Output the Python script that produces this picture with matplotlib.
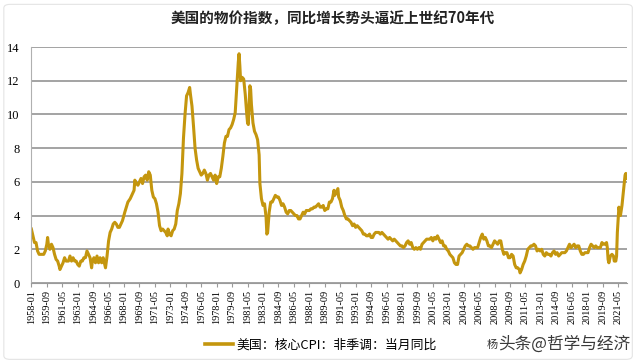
import matplotlib
matplotlib.use('Agg')
import matplotlib.pyplot as plt
from matplotlib.lines import Line2D
from matplotlib.patches import FancyBboxPatch

# core CPI yoy (%)
dates = [
    '1958-01', '1958-03', '1958-05', '1958-07', '1958-09', '1958-11',
    '1959-02', '1959-05', '1959-07', '1959-09', '1959-10', '1959-11',
    '1960-01', '1960-03', '1960-05', '1960-07', '1960-09', '1960-11',
    '1961-01', '1961-02', '1961-04', '1961-06', '1961-08', '1961-10',
    '1962-01', '1962-03', '1962-05', '1962-07', '1962-09', '1962-11',
    '1963-01', '1963-03', '1963-05', '1963-07', '1963-09', '1963-11',
    '1964-01', '1964-03', '1964-05', '1964-07', '1964-08', '1964-10', '1964-12',
    '1965-02', '1965-04', '1965-06', '1965-08', '1965-10', '1965-12',
    '1966-01', '1966-03', '1966-05', '1966-07', '1966-09', '1966-11',
    '1967-01', '1967-03', '1967-05', '1967-07', '1967-09', '1967-11',
    '1968-02', '1968-04', '1968-06', '1968-09', '1968-12',
    '1969-02', '1969-03', '1969-05', '1969-07', '1969-09', '1969-11',
    '1970-01', '1970-03', '1970-05', '1970-07', '1970-09', '1970-11',
    '1971-01', '1971-03', '1971-05', '1971-07', '1971-09', '1971-11',
    '1972-01', '1972-03', '1972-05', '1972-07', '1972-09', '1972-10', '1972-12',
    '1973-02', '1973-04', '1973-06', '1973-08', '1973-10', '1973-12',
    '1974-02', '1974-04', '1974-06', '1974-08', '1974-10', '1974-12',
    '1975-02', '1975-03', '1975-05', '1975-07', '1975-09', '1975-11',
    '1976-01', '1976-03', '1976-05', '1976-07', '1976-09', '1976-11',
    '1977-01', '1977-03', '1977-05', '1977-07', '1977-09', '1977-11',
    '1978-01', '1978-03', '1978-05', '1978-07', '1978-09', '1978-11',
    '1979-01', '1979-03', '1979-05', '1979-07', '1979-09', '1979-11',
    '1980-01', '1980-03', '1980-04', '1980-05', '1980-06', '1980-07', '1980-08', '1980-10', '1980-12',
    '1981-02', '1981-04', '1981-05', '1981-06', '1981-07', '1981-08', '1981-09', '1981-10', '1981-12',
    '1982-02', '1982-04', '1982-06', '1982-08', '1982-09', '1982-11',
    '1983-01', '1983-03', '1983-05', '1983-06', '1983-07', '1983-09', '1983-11',
    '1984-01', '1984-03', '1984-05', '1984-07', '1984-09', '1984-11',
    '1985-01', '1985-03', '1985-05', '1985-07', '1985-09', '1985-11',
    '1986-01', '1986-03', '1986-05', '1986-07', '1986-09', '1986-11',
    '1987-01', '1987-03', '1987-05', '1987-07', '1987-09', '1987-11',
    '1988-01', '1988-03', '1988-05', '1988-07', '1988-09', '1988-11',
    '1989-01', '1989-03', '1989-05', '1989-07', '1989-09', '1989-11',
    '1990-01', '1990-03', '1990-05', '1990-07', '1990-09', '1990-10', '1990-12',
    '1991-02', '1991-03', '1991-05', '1991-07', '1991-09', '1991-11',
    '1992-01', '1992-03', '1992-05', '1992-07', '1992-09', '1992-11',
    '1993-01', '1993-03', '1993-05', '1993-07', '1993-09', '1993-11',
    '1994-01', '1994-03', '1994-05', '1994-07', '1994-09', '1994-11',
    '1995-01', '1995-03', '1995-05', '1995-07', '1995-09', '1995-11',
    '1996-01', '1996-03', '1996-05', '1996-07', '1996-09', '1996-11',
    '1997-01', '1997-03', '1997-05', '1997-07', '1997-09', '1997-11',
    '1998-01', '1998-03', '1998-05', '1998-07', '1998-09', '1998-11',
    '1999-01', '1999-03', '1999-05', '1999-07', '1999-09', '1999-11',
    '2000-01', '2000-03', '2000-05', '2000-07', '2000-09', '2000-11',
    '2001-01', '2001-03', '2001-05', '2001-07', '2001-09', '2001-11',
    '2002-01', '2002-03', '2002-05', '2002-07', '2002-09', '2002-11',
    '2003-01', '2003-03', '2003-05', '2003-07', '2003-09', '2003-11',
    '2004-01', '2004-03', '2004-05', '2004-07', '2004-09', '2004-11',
    '2005-01', '2005-03', '2005-05', '2005-07', '2005-09', '2005-11',
    '2006-01', '2006-03', '2006-05', '2006-07', '2006-09', '2006-11',
    '2007-01', '2007-03', '2007-05', '2007-07', '2007-09', '2007-11',
    '2008-01', '2008-03', '2008-05', '2008-07', '2008-09', '2008-11',
    '2009-01', '2009-03', '2009-05', '2009-07', '2009-09', '2009-11',
    '2010-01', '2010-03', '2010-05', '2010-07', '2010-09', '2010-10', '2010-12',
    '2011-02', '2011-04', '2011-06', '2011-08', '2011-10', '2011-12',
    '2012-02', '2012-04', '2012-06', '2012-08', '2012-10', '2012-12',
    '2013-02', '2013-04', '2013-06', '2013-08', '2013-10', '2013-12',
    '2014-02', '2014-04', '2014-06', '2014-08', '2014-10', '2014-12',
    '2015-02', '2015-04', '2015-06', '2015-08', '2015-10', '2015-12',
    '2016-02', '2016-04', '2016-06', '2016-08', '2016-10', '2016-12',
    '2017-02', '2017-04', '2017-06', '2017-08', '2017-10', '2017-12',
    '2018-02', '2018-04', '2018-06', '2018-08', '2018-10', '2018-12',
    '2019-02', '2019-04', '2019-06', '2019-08', '2019-10', '2019-12',
    '2020-02', '2020-03', '2020-04', '2020-05', '2020-07', '2020-09', '2020-11', '2020-12',
    '2021-02', '2021-03', '2021-04', '2021-05', '2021-06', '2021-08', '2021-10', '2021-12',
    '2022-01', '2022-02', '2022-03', '2022-04',
]
core_cpi = [
    3.2, 2.8, 2.4, 2.4, 1.9, 1.7,
    1.7, 1.7, 1.9, 2.3, 2.7, 2.3,
    2.0, 2.3, 2.1, 1.7, 1.4, 1.3,
    1.0, 0.8, 1.0, 1.2, 1.5, 1.3,
    1.3, 1.6, 1.3, 1.5, 1.3, 1.3,
    1.1, 1.0, 1.3, 1.3, 1.5, 1.5,
    1.9, 1.7, 1.5, 0.9, 1.3, 1.5, 1.2,
    1.6, 1.2, 1.5, 1.2, 1.5, 1.1,
    0.9, 1.6, 2.5, 3.0, 3.2, 3.5,
    3.6, 3.5, 3.3, 3.3, 3.5, 3.7,
    4.2, 4.5, 4.8, 5.0, 5.3,
    5.5, 6.1, 5.9, 5.8, 6.0, 6.2,
    5.9, 6.3, 6.4, 6.1, 6.6, 6.4,
    5.5, 5.1, 5.0, 4.7, 4.2, 3.4,
    3.1, 3.2, 3.1, 3.0, 2.8, 3.2, 2.9,
    2.8, 3.1, 3.2, 3.5, 4.3, 4.7,
    5.3, 6.5, 8.6, 10.0, 11.1, 11.3,
    11.6, 11.2, 10.5, 9.3, 8.0, 7.3,
    6.8, 6.6, 6.4, 6.5, 6.7, 6.5,
    6.1, 6.4, 6.5, 6.3, 6.1, 6.4,
    5.9, 6.3, 6.3, 6.8, 7.5, 8.3,
    8.7, 8.7, 9.1, 9.2, 9.4, 9.7,
    10.1, 11.6, 12.4, 13.1, 13.6, 12.9, 12.0, 12.2, 12.1,
    11.2, 10.0, 9.5, 9.4, 10.5, 11.7, 11.5, 10.6, 9.5,
    9.0, 8.8, 8.5, 7.6, 5.9, 5.0,
    4.6, 4.7, 3.9, 2.9, 3.0, 4.2, 4.8,
    4.8, 5.0, 5.2, 5.1, 5.1, 4.9,
    4.6, 4.7, 4.5, 4.2, 4.1, 4.3,
    4.3, 4.2, 4.1, 4.0, 4.0, 3.8,
    3.8, 4.0, 4.2, 4.1, 4.3, 4.3,
    4.3, 4.4, 4.4, 4.5, 4.5, 4.6,
    4.7, 4.5, 4.5, 4.6, 4.3, 4.4,
    4.4, 4.8, 4.8, 5.0, 5.5, 5.2, 5.4,
    5.6, 5.1, 4.9, 4.5, 4.3, 4.0,
    3.8, 3.8, 3.7, 3.6, 3.4, 3.5,
    3.3, 3.4, 3.3, 3.2, 3.1, 2.9,
    2.9, 2.8, 2.8, 2.9, 2.7, 2.7,
    2.9, 3.0, 3.0, 3.0, 2.9, 3.0,
    2.9, 2.8, 2.7, 2.6, 2.7, 2.6,
    2.5, 2.6, 2.5, 2.4, 2.3, 2.2,
    2.2, 2.1, 2.2, 2.4, 2.5, 2.3,
    2.4, 2.1, 2.0, 2.1, 2.0, 2.1,
    2.0, 2.3, 2.4, 2.5, 2.6, 2.6,
    2.6, 2.7, 2.5, 2.7, 2.6, 2.8,
    2.6, 2.4, 2.5, 2.2, 2.2, 2.0,
    1.9, 1.7, 1.6, 1.5, 1.2, 1.1,
    1.1, 1.6, 1.7, 1.8, 2.0, 2.2,
    2.3, 2.2, 2.2, 2.1, 2.0, 2.1,
    2.1, 2.1, 2.4, 2.7, 2.9, 2.6,
    2.7, 2.5, 2.2, 2.2, 2.1, 2.3,
    2.5, 2.4, 2.3, 2.5, 2.5, 2.0,
    1.7, 1.8, 1.8, 1.5, 1.5, 1.7,
    1.6, 1.1, 0.9, 0.9, 0.8, 0.6, 0.8,
    1.1, 1.3, 1.6, 2.0, 2.1, 2.2,
    2.2, 2.3, 2.2, 1.9, 2.0, 1.9,
    2.0, 1.7, 1.6, 1.8, 1.7, 1.7,
    1.6, 1.8, 1.9, 1.7, 1.8, 1.6,
    1.7, 1.8, 1.8, 1.8, 1.9, 2.1,
    2.3, 2.1, 2.2, 2.3, 2.1, 2.2,
    2.2, 1.9, 1.7, 1.7, 1.8, 1.8,
    1.8, 2.1, 2.3, 2.2, 2.1, 2.2,
    2.1, 2.1, 2.1, 2.4, 2.3, 2.3,
    2.4, 2.1, 1.4, 1.2, 1.6, 1.7, 1.6, 1.3,
    1.3, 1.6, 3.0, 3.8, 4.5, 4.0, 4.6, 5.5,
    6.0, 6.4, 6.5, 6.2,
]

title = '美国的物价指数，同比增长势头逼近上世纪70年代'
legend_label = '美国：核心CPI：非季调：当月同比'


def month_index(s):
    y, m = s.split('-')
    return (int(y) - 1958) * 12 + int(m) - 1


xs = [month_index(d) for d in dates]
n_months = month_index('2022-04') + 1
tick_pos = list(range(0, n_months, 20))
tick_labels = ['%d-%02d' % (1958 + p // 12, p % 12 + 1) for p in tick_pos]

plt.rcParams['font.family'] = ['Noto Sans CJK SC', 'DejaVu Sans']
serif = 'Liberation Serif'
gold = '#C4960E'

fig = plt.figure(figsize=(6.4, 3.63), dpi=100)
fig.patches.append(FancyBboxPatch((0.006, 0.01), 0.982, 0.978, boxstyle='round,pad=0,rounding_size=0.01',
                                  transform=fig.transFigure, fill=False, edgecolor='#e4e4e4', linewidth=0.8))
ax = fig.add_axes([31 / 640, 1 - 283 / 363, 596 / 640, 236 / 363])

ax.plot(xs, core_cpi, color=gold, linewidth=2.2, solid_joinstyle='round')

ax.set_xlim(-0.5, n_months - 0.5)
ax.set_ylim(0, 14)
ax.set_yticks(range(0, 15, 2))
ax.yaxis.grid(True, color='#8a8a8a', linewidth=1.1)
ax.set_axisbelow(True)
for side in ['top', 'right']:
    ax.spines[side].set_visible(False)
ax.spines['left'].set_color('#b0b0b0')
ax.spines['bottom'].set_color('#9a9a9a')
ax.tick_params(axis='y', length=0, pad=8, labelsize=9)
ax.tick_params(axis='x', length=3, color='#9a9a9a', pad=2, labelsize=7.4)
ax.set_xticks(tick_pos)
ax.set_xticklabels(tick_labels, rotation=90)
for lab in ax.get_xticklabels() + ax.get_yticklabels():
    lab.set_family(serif)

fig.text(0.52, 1 - 18 / 363, title, ha='center', va='center', fontsize=10.5, fontweight='bold', color='#222222')

handle = Line2D([], [], color=gold, linewidth=2.6)
fig.legend([handle], [legend_label], loc='center left', bbox_to_anchor=(193 / 640, 1 - 345 / 363),
           frameon=False, fontsize=9.3, handlelength=2.2, handletextpad=0.3)
fig.text(487 / 640, 1 - 345 / 363, '杨', ha='left', va='center', fontsize=8, color='#333333')
fig.text(498 / 640, 1 - 344 / 363, '头条@哲学与经济', ha='left', va='center', fontsize=12, color='#3a3a3a')

fig.savefig('out.png', dpi=100)
